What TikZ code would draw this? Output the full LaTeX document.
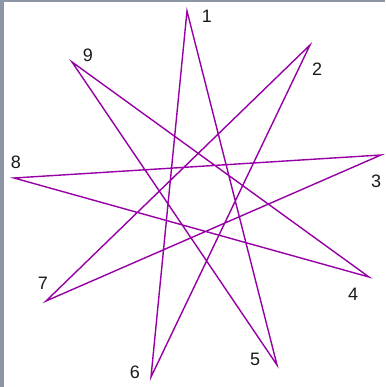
\documentclass[tikz,border=0pt]{standalone}
\usepackage{fontspec}
\setmainfont{Liberation Sans}
\usepackage{tikz}
\usetikzlibrary{positioning}
\definecolor{starline}{RGB}{150,0,165}
\definecolor{frame}{RGB}{140,150,165}

\begin{document}
\begin{tikzpicture}[
  x=1pt, y=-1pt,
  num/.style={font=\fontsize{18}{18}\selectfont, inner sep=0pt, text=black!90},
  edge/.style={draw=starline, line width=1.4pt, line join=miter}
]
\useasboundingbox (0,0) rectangle (385,387);
\fill[white] (0,0) rectangle (385,387);
\fill[frame] (0,0) rectangle (4,387);
\fill[frame] (0,0) rectangle (385,2);

\coordinate (p1) at (187,11);
\coordinate (p2) at (310,45);
\coordinate (p3) at (381,155);
\coordinate (p4) at (369,277);
\coordinate (p5) at (277,365);
\coordinate (p6) at (151,377);
\coordinate (p7) at (46,301);
\coordinate (p8) at (14,178);
\coordinate (p9) at (72,62);

\node[num] (n1) at (207,16) {1};
\node[num] (n2) at (317,69) {2};
\node[num] (n3) at (376,181) {3};
\node[num] (n4) at (353,294) {4};
\node[num] (n5) at (255,359) {5};
\node[num] (n6) at (135,372) {6};
\node[num] (n7) at (43,283) {7};
\node[num] (n8) at (16,162) {8};
\node[num] (n9) at (88,55) {9};

\draw[edge] (p1) -- (p5) -- (p9) -- (p4) -- (p8) -- (p3) -- (p7) -- (p2) -- (p6) -- cycle;
\end{tikzpicture}
\end{document}
